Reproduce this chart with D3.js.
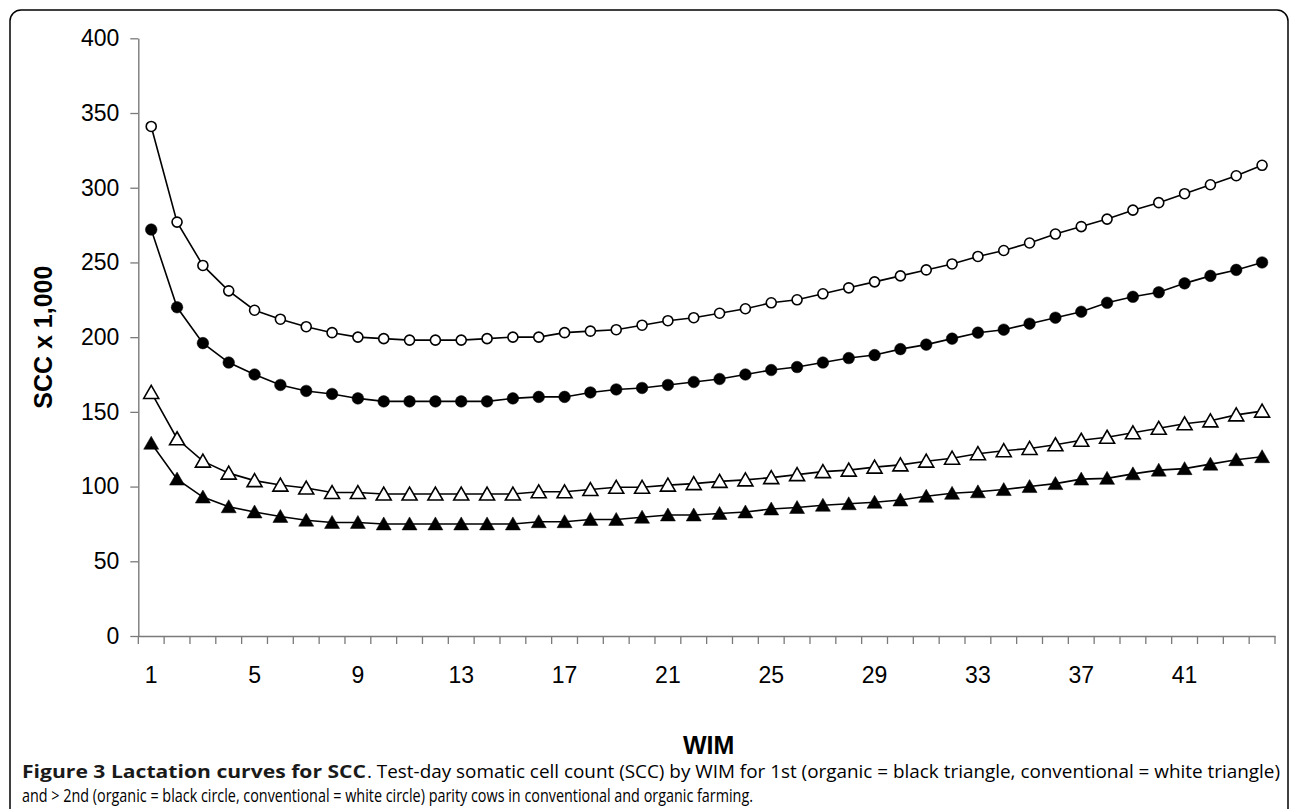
<!DOCTYPE html>
<html>
<head>
<meta charset="utf-8">
<script src="https://cdn.jsdelivr.net/npm/d3@7"></script>
<style>
  html, body { margin: 0; padding: 0; background: #fff; }
  svg { display: block; }
</style>
</head>
<body>
<svg id="chart" width="1292" height="809"></svg>
<script>
// ---- data ----
const wim = d3.range(1, 45).map(String); // WIM 1..44
const xTickLabels = ["1","5","9","13","17","21","25","29","33","37","41"];
const yTicks = [0, 50, 100, 150, 200, 250, 300, 350, 400];

// >2nd parity, conventional (white circle)
const convCircle = [341,277,248,231,218,212,207,203,200,199,198,198,198,199,200,200,203,204,205,208,211,213,216,219,223,225,229,233,237,241,245,249,254,258,263,269,274,279,285,290,296,302,308,315];
// >2nd parity, organic (black circle)
const orgCircle = [272,220,196,183,175,168,164,162,159,157,157,157,157,157,159,160,160,163,165,166,168,170,172,175,178,180,183,186,188,192,195,199,203,205,209,213,217,223,227,230,236,241,245,250];
// 1st parity, conventional (white triangle)
const convTriangle = [163,132,117,109,104,101,99,96,96,95,95,95,95,95,95,96.5,96.5,98,99.5,99.5,101,102,103.5,104.5,106,108,110,111,113,114.5,117,119,122,124,125.5,128,131,133,136,139,142,144,148,150.5];
// 1st parity, organic (black triangle)
const orgTriangle = [129,105,93,86.5,83,80,77.5,76,76,75,75,75,75,75,75,76.5,76.5,78,78,79.5,81,81,82,83,85,86,87.5,88.5,89.5,91,93.5,95.5,96.5,98,100,102,105,105.5,108.5,111,112,115,118,120];

const series = [
  { values: orgTriangle, shape: "triangle", fill: "#000" },
  { values: convTriangle, shape: "triangle", fill: "#fff" },
  { values: orgCircle, shape: "circle", fill: "#000" },
  { values: convCircle, shape: "circle", fill: "#fff" }
];

const svg = d3.select("#chart");

// frame
svg.append("rect")
  .attr("x", 10).attr("y", 10)
  .attr("width", 1278).attr("height", 860)
  .attr("rx", 11).attr("ry", 11)
  .attr("fill", "none").attr("stroke", "#000").attr("stroke-width", 1.5);

const x = d3.scaleBand().domain(wim).range([138.3, 1275]).paddingInner(0).paddingOuter(0);
const y = d3.scaleLinear().domain([0, 400]).range([636, 38.3]);

const axisColor = "#7a7a7a";
const tickFont = "'Liberation Sans', Arial, Helvetica, sans-serif";

// y axis
const yAxis = svg.append("g")
  .attr("transform", `translate(${x.range()[0]},0)`)
  .call(d3.axisLeft(y).tickValues(yTicks).tickSize(8).tickPadding(11).tickSizeOuter(0));
yAxis.select(".domain").attr("stroke", axisColor).attr("stroke-width", 1.4);
yAxis.selectAll(".tick line").attr("stroke", axisColor).attr("stroke-width", 1.3);
yAxis.selectAll(".tick text")
  .attr("font-family", tickFont).attr("font-size", 23).attr("fill", "#000");

// x axis (labels centered in bands, ticks at band boundaries)
const xAxis = svg.append("g")
  .attr("transform", `translate(0,${y(0)})`)
  .call(d3.axisBottom(x).tickValues(xTickLabels).tickSize(0).tickPadding(31).tickSizeOuter(0));
xAxis.select(".domain").attr("stroke", axisColor).attr("stroke-width", 1.4);
xAxis.selectAll(".tick text")
  .attr("font-family", tickFont).attr("font-size", 23).attr("fill", "#000");

const boundaries = wim.map(d => x(d)).concat([x.range()[1]]);
xAxis.selectAll("line.bt").data(boundaries).enter().append("line")
  .attr("class", "bt")
  .attr("x1", d => d).attr("x2", d => d)
  .attr("y1", 0).attr("y2", 8)
  .attr("stroke", axisColor).attr("stroke-width", 1.3);

// axis titles
svg.append("text")
  .attr("transform", `translate(52,${(y(0) + y(400)) / 2}) rotate(-90)`)
  .attr("text-anchor", "middle")
  .attr("font-family", tickFont).attr("font-weight", "bold").attr("font-size", 25)
  .text("SCC x 1,000");

svg.append("text")
  .attr("x", (x.range()[0] + x.range()[1]) / 2 + 2)
  .attr("y", 754)
  .attr("text-anchor", "middle")
  .attr("font-family", tickFont).attr("font-weight", "bold").attr("font-size", 25)
  .text("WIM");

// series
const cx = d => x(d) + x.bandwidth() / 2;
const line = d3.line().x((v, i) => cx(wim[i])).y(v => y(v));
const triPath = "M0,-7L7.5,6L-7.5,6Z";

series.forEach(s => {
  const g = svg.append("g");
  g.append("path")
    .attr("d", line(s.values))
    .attr("fill", "none").attr("stroke", "#000").attr("stroke-width", 1.6);
  if (s.shape === "circle") {
    g.selectAll("circle").data(s.values).enter().append("circle")
      .attr("cx", (v, i) => cx(wim[i])).attr("cy", v => y(v))
      .attr("r", s.fill === "#000" ? 5.8 : 5)
      .attr("fill", s.fill)
      .attr("stroke", "#000").attr("stroke-width", s.fill === "#000" ? 0.5 : 1.6);
  } else {
    g.selectAll("path.m").data(s.values).enter().append("path")
      .attr("class", "m")
      .attr("d", triPath)
      .attr("transform", (v, i) => `translate(${cx(wim[i])},${y(v)})`)
      .attr("fill", s.fill)
      .attr("stroke", "#000").attr("stroke-width", s.fill === "#000" ? 0.5 : 1.6)
      .attr("stroke-linejoin", "miter");
  }
});

// caption
const capFont = "'Open Sans', 'Noto Sans', sans-serif";
svg.append("text")
  .attr("x", 22).attr("y", 778)
  .attr("font-family", capFont).attr("font-size", 18.5).attr("font-weight", "bold").attr("fill", "#1a1a1a")
  .attr("textLength", 344).attr("lengthAdjust", "spacingAndGlyphs")
  .text("Figure 3 Lactation curves for SCC");
svg.append("text")
  .attr("x", 367).attr("y", 778)
  .attr("font-family", capFont).attr("font-size", 18.5).attr("fill", "#000")
  .attr("textLength", 913).attr("lengthAdjust", "spacingAndGlyphs")
  .text(". Test-day somatic cell count (SCC) by WIM for 1st (organic = black triangle, conventional = white triangle)");

svg.append("text")
  .attr("x", 22).attr("y", 802)
  .attr("font-family", capFont).attr("font-size", 18.5).attr("fill", "#000")
  .attr("textLength", 731).attr("lengthAdjust", "spacingAndGlyphs")
  .text("and > 2nd (organic = black circle, conventional = white circle) parity cows in conventional and organic farming.");
</script>
</body>
</html>
